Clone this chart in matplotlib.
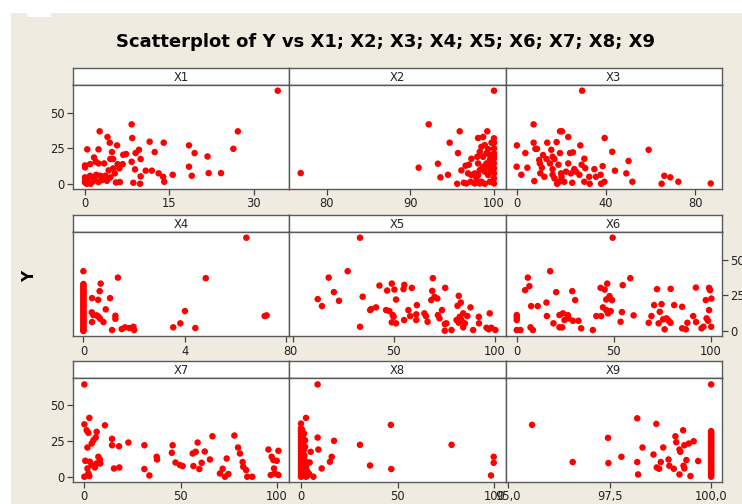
import matplotlib
matplotlib.use("Agg")
import matplotlib.pyplot as plt
from matplotlib.patches import Rectangle

# ---------------- data: (x, Y) pairs per panel ----------------
X1_pts = [(34.3, 65.5), (8.3, 41.8), (2.6, 36.9), (27.2, 36.9), (4.0, 32.9), (8.4, 32.2), (4.4, 28.9),
          (5.7, 27.0), (11.5, 29.6), (14.0, 28.9), (18.5, 27.0), (0.4, 24.2), (2.4, 24.2), (9.6, 23.9),
          (4.8, 22.3), (9.0, 21.6), (12.4, 22.3), (19.5, 21.6), (26.4, 24.6), (21.8, 19.2), (6.8, 20.4),
          (7.3, 20.9), (1.6, 18.5), (9.9, 17.4), (4.5, 17.4), (5.0, 17.4), (1.9, 15.5), (2.4, 14.3),
          (3.4, 14.3), (0.0, 12.9), (0.0, 11.5), (0.9, 13.8), (5.8, 13.8), (6.7, 13.8), (6.1, 10.8),
          (8.3, 15.5), (18.5, 12.0), (8.9, 10.1), (10.8, 9.2), (11.9, 9.2), (13.1, 7.3), (5.0, 10.8),
          (4.2, 9.4), (15.6, 6.3), (19.0, 5.6), (22.0, 7.5), (24.2, 7.5), (13.9, 4.9), (9.9, 5.2),
          (0.9, 5.6), (2.0, 6.3), (2.7, 5.6), (3.6, 5.6), (4.5, 4.5), (5.3, 7.3), (0.0, 4.5),
          (3.9, 2.1), (1.4, 1.6), (2.4, 1.2), (5.5, 0.9), (6.2, 1.2), (8.6, 0.7), (9.8, 0.0),
          (14.1, 1.4), (0.0, 0.9), (0.3, 0.0), (1.0, 0.0), (0.0, 2.1), (1.7, 3.5), (3.0, 2.6),
          (0.4, 3.3)]

X2_pts = [(76.9, 7.5), (100.0, 65.5), (92.2, 41.8), (95.9, 36.9), (99.2, 36.9), (94.7, 28.9),
          (98.1, 32.2), (98.7, 32.9), (95.7, 21.6), (91.0, 11.3), (93.3, 14.1), (93.6, 4.5),
          (94.5, 6.3), (95.6, 0.0), (96.4, 0.7), (97.2, 1.4), (96.1, 9.4), (96.6, 12.7), (97.0, 13.4),
          (97.3, 17.6), (98.0, 19.0), (98.3, 22.5), (98.5, 26.0), (98.9, 27.2), (99.3, 24.4),
          (99.7, 28.9), (100.0, 28.9), (100.0, 24.9), (100.0, 21.4), (100.0, 17.8), (100.0, 14.3),
          (100.0, 10.8), (100.0, 7.3), (100.0, 3.8), (100.0, 0.2), (99.5, 16.7), (99.1, 14.3),
          (98.7, 12.0), (98.3, 9.6), (97.7, 7.3), (97.3, 6.1), (97.9, 3.8), (98.5, 1.4), (98.9, 0.0),
          (99.5, 1.4), (99.3, 6.1), (99.6, 9.2), (98.9, 8.5), (98.1, 6.1), (98.7, 19.0), (99.1, 21.4),
          (99.5, 20.2), (98.1, 14.3), (96.9, 7.3), (97.7, 0.2), (98.3, 0.2), (96.7, 0.2), (99.3, 12.0),
          (99.7, 14.3), (100.0, 32.0), (100.0, 19.5)]

X3_pts = [(29.3, 65.5), (7.6, 41.8), (19.4, 36.9), (20.3, 36.9), (23.1, 32.9), (39.4, 32.2), (7.6, 28.9),
          (13.7, 28.9), (17.9, 29.3), (28.5, 27.0), (0.1, 27.0), (8.4, 24.6), (9.1, 24.6), (15.5, 23.9),
          (19.4, 21.6), (23.9, 21.6), (25.2, 22.1), (3.9, 21.6), (42.8, 22.5), (59.1, 23.9),
          (11.8, 20.2), (16.1, 19.0), (13.4, 17.4), (16.9, 17.4), (10.1, 16.7), (30.3, 17.6),
          (10.4, 14.3), (14.9, 14.3), (18.7, 13.4), (23.1, 14.3), (29.1, 13.4), (0.0, 12.0),
          (4.8, 11.3), (11.3, 11.3), (16.1, 10.3), (25.8, 10.3), (30.7, 11.0), (34.8, 10.3),
          (38.5, 12.4), (50.1, 16.0), (44.0, 9.2), (49.1, 7.3), (2.1, 6.3), (10.6, 7.3), (16.1, 6.3),
          (19.9, 7.3), (22.1, 8.5), (24.3, 7.3), (26.6, 8.5), (28.1, 6.3), (32.5, 4.9), (35.5, 4.9),
          (37.6, 6.3), (7.9, 1.9), (18.1, 0.0), (19.1, 1.4), (21.3, 1.4), (24.9, 0.7), (30.3, 1.4),
          (32.7, 0.0), (37.8, 0.0), (39.3, 1.4), (51.8, 1.4), (64.9, 0.0), (66.1, 5.6), (68.8, 4.5),
          (72.4, 1.4), (86.9, 0.2), (20.1, 4.9), (16.9, 3.8), (12.4, 4.9)]

X4_pts = [(6.42, 65.5), (1.36, 37.5), (4.82, 37.1), (0.68, 33.3), (0.64, 28.0), (0.34, 23.1),
          (0.58, 21.9), (1.05, 23.1), (0.88, 15.2), (4.0, 14.0), (1.26, 10.7), (1.26, 8.6),
          (0.33, 13.1), (0.39, 11.2), (0.52, 11.0), (0.6, 10.0), (0.66, 8.6), (0.79, 6.3), (0.34, 6.3),
          (7.14, 10.5), (7.22, 11.0), (1.13, 0.7), (1.51, 1.4), (1.64, 2.6), (1.81, 2.1), (1.97, 3.0),
          (2.0, 0.7), (3.54, 2.6), (3.82, 5.4), (4.41, 2.1),
          (0, 42), (0, 33), (0, 32), (0, 31), (0, 30), (0, 29), (0, 28), (0, 27), (0, 26), (0, 25),
          (0, 24), (0, 23), (0, 22), (0, 21), (0, 20), (0, 19), (0, 18), (0, 17), (0, 16), (0, 15),
          (0, 14), (0, 13), (0, 12), (0, 11), (0, 10), (0, 9), (0, 8), (0, 7), (0, 6), (0, 5),
          (0, 4), (0, 3), (0, 2), (0, 1), (0, 0.5), (0, 0)]

X5_pts = [(33.3, 65.5), (27.2, 42.0), (17.8, 37.5), (20.4, 27.3), (12.4, 22.4), (22.9, 21.2),
          (14.5, 17.5), (34.6, 24.1), (38.3, 14.7), (33.3, 3.0), (41.2, 16.6), (38.8, 15.4),
          (42.9, 31.9), (46.7, 28.4), (49.0, 33.3), (50.3, 29.1), (51.1, 22.1), (55.2, 32.4),
          (54.8, 29.4), (58.9, 30.3), (46.2, 14.7), (47.8, 14.0), (49.5, 11.2), (49.9, 10.0),
          (49.0, 6.1), (51.1, 5.4), (55.1, 7.7), (57.2, 14.7), (58.1, 10.5), (61.4, 18.2),
          (61.1, 11.7), (61.1, 7.7), (65.1, 12.4), (65.9, 10.5), (66.7, 6.5), (69.0, 28.2),
          (69.3, 37.1), (68.5, 21.7), (70.1, 24.0), (71.5, 22.8), (71.8, 11.2), (72.6, 8.9),
          (73.8, 14.7), (75.4, 30.3), (75.2, 4.9), (75.2, 0.2), (76.0, 5.4), (78.5, 0.7), (81.0, 7.7),
          (82.1, 24.7), (83.1, 20.0), (81.5, 17.7), (82.6, 10.0), (83.4, 7.7), (82.1, 5.8), (84.3, 2.6),
          (85.1, 5.4), (86.3, 10.5), (87.9, 16.6), (89.2, 0.7), (92.0, 10.0), (92.1, 5.4), (95.8, 2.3),
          (97.4, 12.4), (96.9, 1.2), (98.2, 2.3), (100.2, 0.7), (84.3, 12.4)]

X6_pts = [(49.4, 65.5), (17.2, 42.0), (5.7, 37.5), (58.5, 37.1), (54.6, 32.2), (46.6, 33.3),
          (20.3, 27.3), (28.6, 28.0), (43.2, 30.3), (45.3, 29.1), (79.3, 29.6), (72.3, 29.4),
          (99.1, 30.3), (99.6, 28.7), (92.3, 30.5), (4.3, 28.7), (6.5, 31.5), (30.1, 21.7),
          (47.8, 24.5), (49.1, 21.7), (46.1, 22.1), (10.8, 17.5), (15.3, 20.0), (7.4, 17.5),
          (15.5, 10.5), (18.9, 5.4), (22.0, 11.2), (23.8, 12.4), (26.3, 11.2), (24.6, 7.7),
          (26.7, 8.9), (28.9, 7.2), (31.8, 7.2), (33.2, 1.9), (22.0, 2.6), (23.4, 2.6), (39.2, 0.7),
          (41.0, 10.5), (43.5, 10.5), (44.4, 16.6), (46.1, 14.7), (48.4, 14.0), (47.0, 12.4),
          (53.5, 6.5), (54.2, 13.3), (60.2, 11.0), (68.0, 5.8), (69.4, 10.5), (70.8, 18.2),
          (73.7, 13.5), (74.6, 18.9), (73.1, 5.4), (75.4, 8.2), (76.2, 1.2), (77.1, 8.9), (78.3, 7.2),
          (79.2, 5.8), (81.1, 18.2), (85.2, 17.0), (85.2, 1.9), (87.9, 5.8), (87.1, 1.2), (90.9, 10.5),
          (92.4, 6.3), (95.2, 1.9), (96.2, 3.0), (97.8, 8.9), (98.6, 7.2), (99.1, 14.7), (100.2, 3.0),
          (97.4, 21.7), (100.3, 22.8), (0.0, 11.2), (0.0, 9.6), (0.0, 7.7), (0.0, 0.7), (1.9, 0.7),
          (7.1, 2.6), (8.3, 0.7)]

X7_pts = [(0.0, 64.8), (0.0, 36.8), (2.6, 41.3), (10.7, 36.1), (1.2, 32.6), (2.1, 30.8), (6.4, 31.5),
          (5.9, 27.5), (4.7, 25.6), (3.8, 23.3), (1.6, 20.5), (14.4, 26.6), (14.4, 22.1), (18.0, 21.4),
          (22.9, 24.0), (31.2, 22.1), (45.9, 22.1), (58.9, 24.0), (66.6, 28.4), (78.0, 28.9),
          (79.9, 20.5), (95.7, 19.1), (100.9, 18.2), (0.5, 11.2), (2.9, 10.5), (3.8, 8.2), (1.6, 5.8),
          (5.5, 6.5), (6.4, 9.3), (7.3, 14.0), (8.1, 12.1), (8.3, 9.3), (15.4, 5.8), (18.2, 6.5),
          (31.2, 5.4), (33.8, 0.9), (37.6, 14.0), (37.8, 12.1), (45.5, 16.8), (47.4, 10.0),
          (49.7, 8.2), (51.1, 7.5), (56.7, 7.5), (56.3, 16.3), (57.9, 17.5), (59.8, 5.4), (61.0, 9.8),
          (62.6, 17.7), (65.3, 12.1), (70.5, 2.3), (71.9, 5.6), (73.1, 0.0), (74.0, 12.8), (74.9, 1.9),
          (80.9, 16.3), (82.3, 10.3), (82.6, 7.0), (84.1, 4.7), (84.7, 0.0), (87.3, 0.0), (97.4, 14.0),
          (98.3, 11.7), (100.0, 11.2), (98.6, 5.8), (96.9, 1.2), (99.1, 2.3), (100.9, 1.2), (2.6, 0.5),
          (2.1, 2.3), (0.0, 0.0)]

X8_pts = [(8.6, 64.8), (2.6, 41.3), (0.0, 37.3), (8.6, 27.5), (17.1, 25.2), (9.0, 19.1), (5.0, 17.5),
          (15.9, 14.0), (15.0, 10.5), (30.5, 22.4), (35.7, 7.9), (10.7, 5.8), (6.4, 0.0), (2.6, 0.0),
          (1.6, 30.3), (2.1, 25.6), (2.1, 21.0), (46.5, 36.4), (46.7, 5.4), (77.9, 22.4), (99.7, 14.0),
          (99.7, 9.8), (98.3, 0.9),
          (0, 34), (0, 32), (0, 30), (0, 28), (0, 26), (0, 24), (0, 22), (0, 20), (0, 18), (0, 16),
          (0, 14), (0, 12), (0, 10), (0, 8), (0, 6), (0, 4), (0, 2), (0, 0),
          (0.6, 33), (0.8, 29), (1.0, 27), (1.2, 23), (1.5, 19), (1.8, 15), (2.2, 11), (2.6, 7),
          (3.0, 3), (3.4, 1), (1.0, 17), (1.4, 13), (2.0, 9), (2.4, 5), (0.5, 21), (1.2, 25),
          (1.8, 8), (3.2, 4), (4.2, 2), (4.5, 10), (0.9, 0.5), (1.6, 6)]

X9_pts = [(100.0, 64.8), (95.59, 36.4), (98.18, 41.0), (98.65, 37.1), (99.31, 32.6), (99.12, 28.4),
          (97.46, 27.3), (99.14, 24.2), (99.34, 22.1), (99.45, 23.3), (99.57, 24.9), (98.31, 20.5),
          (98.82, 20.5), (99.22, 19.1), (99.24, 17.5), (98.58, 15.6), (97.79, 14.0), (96.59, 10.3),
          (97.47, 9.6), (98.18, 10.3), (98.76, 10.3), (98.95, 12.1), (98.97, 7.7), (99.39, 11.7),
          (99.68, 11.0), (98.66, 6.5), (98.72, 5.6), (99.08, 5.6), (99.32, 7.7), (99.34, 5.8),
          (98.2, 1.6), (99.22, 1.6), (99.49, 0.5),
          (100, 32), (100, 31), (100, 30), (100, 29), (100, 28), (100, 27), (100, 26), (100, 25),
          (100, 24), (100, 23), (100, 22), (100, 21), (100, 20), (100, 19), (100, 18), (100, 17),
          (100, 16), (100, 15), (100, 14), (100, 13), (100, 12), (100, 11), (100, 10), (100, 9),
          (100, 8), (100, 7), (100, 6), (100, 5), (100, 4), (100, 3), (100, 2), (100, 1), (100, 0)]

panel_names = ["X1", "X2", "X3", "X4", "X5", "X6", "X7", "X8", "X9"]
panel_pts = [X1_pts, X2_pts, X3_pts, X4_pts, X5_pts, X6_pts, X7_pts, X8_pts, X9_pts]
panel_xticks = [[0, 15, 30], [80, 90, 100], [0, 40, 80], [0, 4, 8], [0, 50, 100], [0, 50, 100],
                [0, 50, 100], [0, 50, 100], [95.0, 97.5, 100.0]]
panel_xticklabels = [["0", "15", "30"], ["80", "90", "100"], ["0", "40", "80"], ["0", "4", "8"],
                     ["0", "50", "100"], ["0", "50", "100"], ["0", "50", "100"], ["0", "50", "100"],
                     ["95,0", "97,5", "100,0"]]
panel_xlim = [(-2.14, 36.3), (75.5, 101.4), (-4.9, 91.8), (-0.41, 8.1), (-1.8, 105.3), (-5.7, 105.6),
              (-5.9, 106.4), (-6.2, 105.9), (94.94, 100.26)]
y_ticks = [0, 25, 50]
y_lim = (-3.7, 69.3)

title = "Scatterplot of Y vs X1; X2; X3; X4; X5; X6; X7; X8; X9"

# ---------------- layout ----------------
W, H = 742, 504
fig = plt.figure(figsize=(W / 100, H / 100), dpi=100)
fig.patch.set_facecolor("white")
BEIGE = "#EFEBE1"
fig.add_artist(Rectangle((11 / W, 0), 1 - 11 / W, 1 - 13 / H, transform=fig.transFigure,
                         facecolor=BEIGE, edgecolor="none", zorder=-10))
fig.add_artist(Rectangle((27 / W, 1 - 17 / H), 24 / W, 4 / H, transform=fig.transFigure,
                         facecolor="white", edgecolor="none", zorder=-9))

def px_axes(x0, y0, x1, y1):
    return fig.add_axes([x0 / W, 1 - y1 / H, (x1 - x0) / W, (y1 - y0) / H])

cols = [(73, 289), (289, 505.7), (505.7, 721.7)]
rows = [(68, 85.3, 189), (214.7, 232.3, 336.3), (360.7, 378, 482)]
SPINE = "#5a5a5a"
TICKFS = 8.3

for i in range(9):
    r, c = divmod(i, 3)
    x0, x1 = cols[c]
    st, pt, pb = rows[r]
    # strip
    sax = px_axes(x0, st, x1, pt)
    sax.set_facecolor("white")
    sax.set_xticks([]); sax.set_yticks([])
    for s in sax.spines.values():
        s.set_color(SPINE); s.set_linewidth(1.0)
    sax.spines["bottom"].set_color("#111111")
    sax.text(0.5, 0.45, panel_names[i], transform=sax.transAxes, ha="center", va="center",
             fontsize=8.3, color="#222222")
    # panel
    ax = px_axes(x0, pt, x1, pb)
    ax.set_facecolor("white")
    xs = [p[0] for p in panel_pts[i]]
    ys = [p[1] for p in panel_pts[i]]
    ax.scatter(xs, ys, s=22, color="#FF0000", edgecolors="none", zorder=3)
    ax.set_xlim(*panel_xlim[i]); ax.set_ylim(*y_lim)
    ax.set_xticks(panel_xticks[i])
    ax.set_xticklabels(panel_xticklabels[i])
    for s in ax.spines.values():
        s.set_color(SPINE); s.set_linewidth(1.0)
    ax.tick_params(axis="x", direction="out", length=4, width=0.9, color="#444444",
                   labelsize=TICKFS, labelcolor="#222222", pad=2)
    ax.set_yticks(y_ticks)
    if (r in (0, 2)) and c == 0:
        ax.tick_params(axis="y", direction="out", length=4, width=0.9, color="#444444",
                       labelsize=TICKFS, labelcolor="#222222", pad=2, left=True, labelleft=True)
    elif r == 1 and c == 2:
        ax.tick_params(axis="y", direction="out", length=4, width=0.9, color="#444444",
                       labelsize=TICKFS, labelcolor="#222222", pad=2, left=False, labelleft=False,
                       right=True, labelright=True)
    else:
        ax.tick_params(axis="y", left=False, labelleft=False)

fig.text(385 / W, 1 - 42 / H, title, ha="center", va="center", fontsize=13, fontweight="bold",
         color="black")
fig.text(30 / W, 1 - 276 / H, "Y", ha="center", va="center", rotation=90, fontsize=11,
         fontweight="bold", color="black")

fig.savefig("out.png", dpi=100, facecolor=fig.get_facecolor())
